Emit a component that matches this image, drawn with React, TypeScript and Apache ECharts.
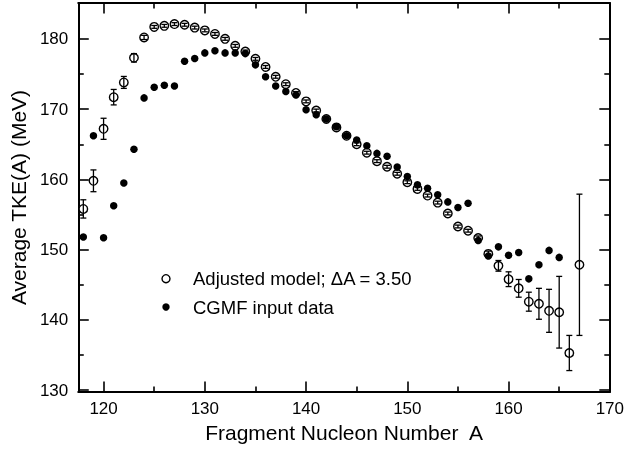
import React, { useEffect, useRef } from "react";
import * as echarts from "echarts";

// Adjusted model (open circles) with uncertainties
const openA = [118, 119, 120, 121, 122, 123, 124, 125, 126, 127, 128, 129, 130, 131, 132, 133, 134, 135, 136, 137, 138, 139, 140, 141, 142, 143, 144, 145, 146, 147, 148, 149, 150, 151, 152, 153, 154, 155, 156, 157, 158, 159, 160, 161, 162, 163, 164, 165, 166, 167];
const openTKE = [155.8, 159.8, 167.2, 171.7, 173.8, 177.3, 180.2, 181.7, 181.85, 182.1, 182.0, 181.6, 181.2, 180.7, 180.0, 179.0, 178.2, 177.15, 176.0, 174.6, 173.55, 172.3, 171.1, 169.8, 168.6, 167.4, 166.2, 165.0, 163.8, 162.6, 161.8, 160.8, 159.6, 158.65, 157.7, 156.7, 155.15, 153.3, 152.7, 151.65, 149.4, 147.7, 145.8, 144.5, 142.6, 142.3, 141.3, 141.1, 135.3, 147.85];
const openErr = [1.3, 1.55, 1.5, 1.1, 0.85, 0.6, 0.3, 0.2, 0.2, 0.2, 0.2, 0.2, 0.2, 0.2, 0.2, 0.2, 0.2, 0.2, 0.2, 0.2, 0.2, 0.2, 0.2, 0.2, 0.2, 0.2, 0.2, 0.2, 0.2, 0.2, 0.2, 0.2, 0.2, 0.2, 0.2, 0.2, 0.2, 0.2, 0.2, 0.3, 0.4, 0.76, 1.05, 1.26, 1.35, 2.2, 3.06, 5.1, 2.5, 10.05];

// CGMF input data (filled dots)
const cgmfA = [118, 119, 120, 121, 122, 123, 124, 125, 126, 127, 128, 129, 130, 131, 132, 133, 134, 135, 136, 137, 138, 139, 140, 141, 142, 143, 144, 145, 146, 147, 148, 149, 150, 151, 152, 153, 154, 155, 156, 157, 158, 159, 160, 161, 162, 163, 164, 165];
const cgmfTKE = [151.8, 166.2, 151.7, 156.25, 159.5, 164.3, 171.6, 173.1, 173.4, 173.3, 176.8, 177.2, 178.0, 178.3, 178.0, 178.0, 177.9, 176.3, 174.6, 173.3, 172.5, 172.0, 169.9, 169.2, 168.6, 167.5, 166.2, 165.6, 164.8, 163.7, 163.3, 161.75, 160.4, 159.25, 158.75, 157.8, 156.8, 156.0, 156.6, 151.3, 149.1, 150.4, 149.2, 149.6, 145.85, 147.85, 149.9, 148.9];

const xMajor = [120, 130, 140, 150, 160, 170];
const xMinor = [125, 135, 145, 155, 165];
const yMajor = [130, 140, 150, 160, 170, 180];
const yMinor = [135, 145, 155, 165, 175];

const legendLabels = ["Adjusted model; \u0394A = 3.50", "CGMF input data"];
const xTitle = "Fragment Nucleon Number  A";
const yTitle = "Average TKE(A) (MeV)";

const FONT = "'Liberation Sans', Arial, Helvetica, sans-serif";
const INK = "#000";

export default function App() {
  const ref = useRef<HTMLDivElement>(null);

  useEffect(() => {
    if (!ref.current) return;
    const chart = echarts.init(ref.current, null, { renderer: "svg" });

    const X_MIN = 117.5, X_MAX = 170;
    const Y_MIN = 129.75, Y_MAX = 185.1;

    const mkX = (pos: string, ticks: number[], len: number, labels: boolean, line: boolean, extra: any = {}) => ({
      type: "value",
      position: pos,
      min: X_MIN,
      max: X_MAX,
      axisLine: { show: line, onZero: false, lineStyle: { color: INK, width: 2 } },
      axisTick: { show: true, inside: true, length: len, customValues: ticks, lineStyle: { color: INK, width: 1.6 } },
      axisLabel: labels
        ? { show: true, customValues: ticks, fontSize: 17, color: INK, fontFamily: FONT, margin: 8 }
        : { show: false },
      splitLine: { show: false },
      ...extra,
    });
    const mkY = (pos: string, ticks: number[], len: number, labels: boolean, line: boolean, extra: any = {}) => ({
      type: "value",
      position: pos,
      min: Y_MIN,
      max: Y_MAX,
      axisLine: { show: line, onZero: false, lineStyle: { color: INK, width: 2 } },
      axisTick: { show: true, inside: true, length: len, customValues: ticks, lineStyle: { color: INK, width: 1.6 } },
      axisLabel: labels
        ? { show: true, customValues: ticks, fontSize: 17, color: INK, fontFamily: FONT, margin: 10 }
        : { show: false },
      splitLine: { show: false },
      ...extra,
    });

    const openData = openA.map((a, i) => [a, openTKE[i], openErr[i]]);
    const cgmfData = cgmfA.map((a, i) => [a, cgmfTKE[i]]);

    chart.setOption({
      animation: false,
      grid: [{ left: 73, right: 16, top: 3, bottom: 57, containLabel: false }],
      xAxis: [
        mkX("bottom", xMajor, 10.5, true, true, {
          name: xTitle,
          nameLocation: "middle",
          nameGap: 29,
          nameTextStyle: { fontSize: 21, color: INK, fontFamily: FONT },
        }),
        mkX("top", xMajor, 10.5, false, true),
        mkX("bottom", xMinor, 5.5, false, false),
        mkX("top", xMinor, 5.5, false, false),
      ],
      yAxis: [
        mkY("left", yMajor, 10.5, true, true, {
          name: yTitle,
          nameLocation: "middle",
          nameGap: 45,
          nameTextStyle: { fontSize: 21, color: INK, fontFamily: FONT },
        }),
        mkY("right", yMajor, 10.5, false, true),
        mkY("left", yMinor, 5.5, false, false),
        mkY("right", yMinor, 5.5, false, false),
      ],
      series: [
        {
          name: "Adjusted model",
          type: "scatter",
          data: openData,
          symbol: "circle",
          symbolSize: 8.5,
          itemStyle: { color: "#fff", borderColor: INK, borderWidth: 1.4, opacity: 1 },
          z: 2,
        },
        {
          name: "Adjusted model errors",
          type: "custom",
          data: openData,
          encode: { x: 0, y: 1 },
          z: 3,
          renderItem: (params: any, api: any) => {
            const x = api.value(0);
            const y = api.value(1);
            const e = api.value(2);
            const top = api.coord([x, y + e]);
            const bot = api.coord([x, y - e]);
            const cw = 3;
            return {
              type: "group",
              children: [
                { type: "line", shape: { x1: top[0], y1: top[1], x2: bot[0], y2: bot[1] }, style: { stroke: INK, lineWidth: 1.3 } },
                { type: "line", shape: { x1: top[0] - cw, y1: top[1], x2: top[0] + cw, y2: top[1] }, style: { stroke: INK, lineWidth: 1.3 } },
                { type: "line", shape: { x1: bot[0] - cw, y1: bot[1], x2: bot[0] + cw, y2: bot[1] }, style: { stroke: INK, lineWidth: 1.3 } },
              ],
            };
          },
        },
        {
          name: "CGMF input data",
          type: "scatter",
          data: cgmfData,
          symbol: "circle",
          symbolSize: 7.5,
          itemStyle: { color: INK, opacity: 1 },
          z: 4,
        },
      ],
      graphic: [
        { type: "circle", shape: { cx: 166, cy: 278.7, r: 4 }, style: { fill: "#fff", stroke: INK, lineWidth: 1.4 } },
        { type: "circle", shape: { cx: 166, cy: 307, r: 3.7 }, style: { fill: INK } },
        {
          type: "text",
          x: 193,
          y: 278.7,
          style: { text: legendLabels[0], fontSize: 18.5, fontFamily: FONT, fill: INK, verticalAlign: "middle", align: "left" },
        },
        {
          type: "text",
          x: 193,
          y: 307,
          style: { text: legendLabels[1], fontSize: 18.5, fontFamily: FONT, fill: INK, verticalAlign: "middle", align: "left" },
        },
      ],
    });

    return () => chart.dispose();
  }, []);

  return <div ref={ref} style={{ position: "fixed", left: 0, top: 0, width: 627, height: 449 }} />;
}
